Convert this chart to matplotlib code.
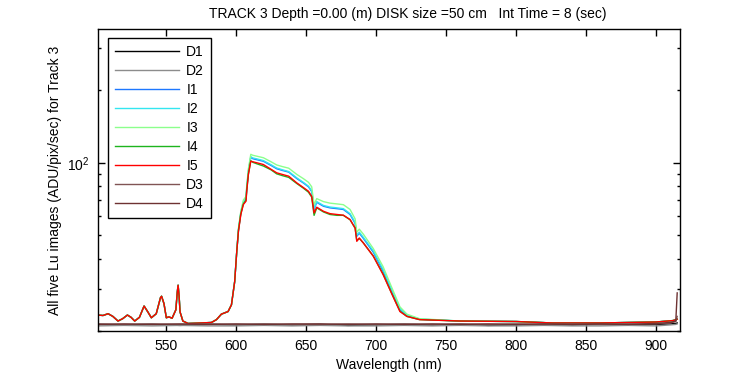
import matplotlib
matplotlib.use("Agg")
import matplotlib.pyplot as plt
import numpy as np

plt.rcParams['font.family'] = ['Liberation Sans', 'DejaVu Sans']
plt.rcParams['mathtext.fontset'] = 'custom'
plt.rcParams['mathtext.rm'] = 'Liberation Sans'
plt.rcParams['mathtext.default'] = 'regular'

# wavelength grids (nm)
wl_low = [501, 505, 508.6, 512, 515.7, 519, 522.4, 525, 527.6, 531, 534.3, 537,
          539.5, 543, 546, 546.8, 548.5, 550.2, 552, 554.3, 557, 558, 558.6, 559.3,
          560, 562, 565.7, 575, 582.4, 586, 589.5, 594.3, 596.7, 599, 600.5]
wl_high = [601.7, 603.4, 605.2, 607.1, 607.6, 608.8, 610.5, 612, 615, 619.5, 625,
           629, 633, 637.6, 643.4, 648, 651.7, 654, 655.7, 657.6, 662.4, 667, 672,
           676.6, 681.4, 685, 686.2, 688, 690.9, 698, 705, 711, 717, 722, 731]
wl_tail = [760, 800, 826, 860, 900, 912, 915]

# common part of the five Lu spectra (identical within a pixel below 600 nm and above 730 nm)
lu_low = [23.3, 23.2, 23.6, 23.0, 22.0, 22.5, 23.3, 22.8, 22.0, 22.8, 25.4, 24.0,
          22.7, 23.6, 27.5, 27.9, 26.0, 22.7, 22.9, 22.6, 24.5, 29.0, 31.0, 28.0,
          24.0, 22.0, 21.5, 21.6, 21.7, 22.3, 23.5, 24.1, 25.7, 32.1, 42.9]
lu_tail = [22.0, 21.9, 21.6, 21.6, 21.8, 22.1, 22.4]

i1_high = [52.5, 62.0, 68.5, 71.0, 78.0, 92.0, 105.5, 104.0, 103.0, 101.5, 97.5,
           94.5, 93.0, 91.5, 86.0, 82.5, 79.5, 76.0, 64.0, 68.5, 66.0, 65.0, 64.5,
           64.0, 61.0, 56.0, 49.5, 51.0, 48.5, 42.5, 35.5, 29.5, 24.6, 23.2, 22.4]
i2_high = [52.8, 62.3, 68.8, 71.5, 78.5, 92.5, 106.0, 104.8, 103.8, 102.2, 98.2,
           95.2, 93.6, 92.0, 86.6, 83.0, 80.0, 76.5, 64.5, 69.0, 66.5, 65.5, 65.0,
           64.5, 61.5, 56.5, 50.0, 51.5, 49.0, 43.0, 36.0, 29.8, 24.8, 23.3, 22.4]
i3_high = [53.5, 63.0, 70.0, 72.5, 80.0, 94.5, 108.5, 107.5, 106.5, 105.0, 101.0,
           98.0, 96.5, 95.0, 89.5, 86.0, 83.0, 79.5, 67.0, 71.0, 69.0, 68.0, 67.5,
           67.0, 64.0, 58.5, 51.5, 53.0, 50.5, 44.0, 37.0, 30.5, 25.2, 23.5, 22.5]
i4_high = [52.5, 61.5, 67.5, 70.0, 77.0, 90.0, 102.0, 100.5, 99.0, 97.0, 93.5,
           90.0, 88.5, 87.0, 82.0, 78.5, 75.5, 72.0, 60.5, 65.0, 62.5, 61.0, 60.5,
           60.5, 58.0, 53.5, 47.5, 48.5, 46.5, 41.0, 34.5, 28.8, 24.2, 23.0, 22.3]
i5_high = [51.9, 61.0, 67.1, 69.3, 76.2, 89.5, 101.6, 101.0, 100.0, 98.4, 94.0,
           90.9, 89.5, 88.0, 82.5, 79.0, 76.2, 72.6, 61.9, 65.4, 62.9, 61.5, 61.0,
           60.6, 58.1, 53.6, 47.2, 48.7, 46.4, 40.9, 34.3, 28.7, 24.1, 23.0, 22.3]

# dark spectra
wl_dark = [501, 520, 540, 560, 580, 600, 620, 640, 660, 680, 700, 720, 740, 760,
           780, 800, 820, 840, 860, 880, 900, 910, 914, 915]
d1 = [21.3, 21.2, 21.3, 21.1, 21.3, 21.2, 21.3, 21.2, 21.3, 21.1, 21.2, 21.3,
      21.2, 21.3, 21.1, 21.2, 21.3, 21.2, 21.3, 21.2, 21.3, 21.4, 21.5, 21.6]
d2 = [21.0, 21.1, 21.0, 21.1, 21.0, 21.0, 21.1, 21.0, 21.1, 21.0, 21.0, 21.1,
      21.0, 21.1, 21.0, 21.0, 21.1, 21.0, 21.0, 21.1, 21.0, 21.2, 21.3, 21.4]
d3 = [21.4, 21.3, 21.4, 21.3, 21.4, 21.3, 21.4, 21.3, 21.3, 21.4, 21.3, 21.4,
      21.3, 21.4, 21.3, 21.4, 21.3, 21.4, 21.3, 21.4, 21.4, 21.6, 21.9, 23.0]
d4 = [21.3, 21.4, 21.3, 21.4, 21.3, 21.4, 21.3, 21.4, 21.4, 21.3, 21.4, 21.3,
      21.4, 21.3, 21.4, 21.3, 21.4, 21.3, 21.4, 21.3, 21.5, 21.7, 22.0, 28.8]

wl_lu = wl_low + wl_high + wl_tail
series = [
    ('D1', wl_dark, d1, 'black'),
    ('D2', wl_dark, d2, '#8c8c8c'),
    ('I1', wl_lu, lu_low + i1_high + lu_tail, '#1e78ff'),
    ('I2', wl_lu, lu_low + i2_high + lu_tail, '#33e6f0'),
    ('I3', wl_lu, lu_low + i3_high + lu_tail, '#8cff8c'),
    ('I4', wl_lu, lu_low + i4_high + lu_tail, '#1eb41e'),
    ('I5', wl_lu, lu_low + i5_high + lu_tail, '#ff0000'),
    ('D3', wl_dark, d3, '#805454'),
    ('D4', wl_dark, d4, '#6e3232'),
]

fig = plt.figure(figsize=(7.5, 3.75), dpi=100)
ax = fig.add_axes([98/750, 1 - 331/375, 582/750, 302/375])

for name, x, y, c in series:
    ax.plot(x, y, color=c, linewidth=1.0, label=name)

ax.set_yscale('log')
ax.set_xlim(501.4, 917)
ax.set_ylim(20, 360)
ax.set_xticks(np.arange(550, 901, 50))
ax.tick_params(which='both', direction='in', top=True, right=True, labelsize=10)
ax.tick_params(which='major', length=5, width=1, pad=6)
ax.tick_params(which='minor', length=2.5, width=1)
ax.tick_params(axis='y', which='minor', labelleft=False)
for s in ax.spines.values():
    s.set_linewidth(1)

ax.set_xlabel('Wavelength (nm)', fontsize=10)
ax.xaxis.set_label_coords(0.5, -0.088)
ax.set_ylabel('All five Lu images (ADU/pix/sec) for Track 3', fontsize=10)
ax.yaxis.set_label_coords(-0.062, 0.5)

fig.text(408/750, 1 - 14/375, 'TRACK 3 Depth =0.00 (m) DISK size =50 cm   Int Time = 8 (sec)',
         ha='center', va='center', fontsize=10)

leg = ax.legend(loc='upper left', bbox_to_anchor=(0.017, 0.97), borderaxespad=0,
                fontsize=10, handlelength=4.6, labelspacing=0.36, fancybox=False,
                framealpha=1, edgecolor='black', borderpad=0.5, handletextpad=0.55)
leg.get_frame().set_linewidth(1)

fig.savefig('out.png', dpi=100)
